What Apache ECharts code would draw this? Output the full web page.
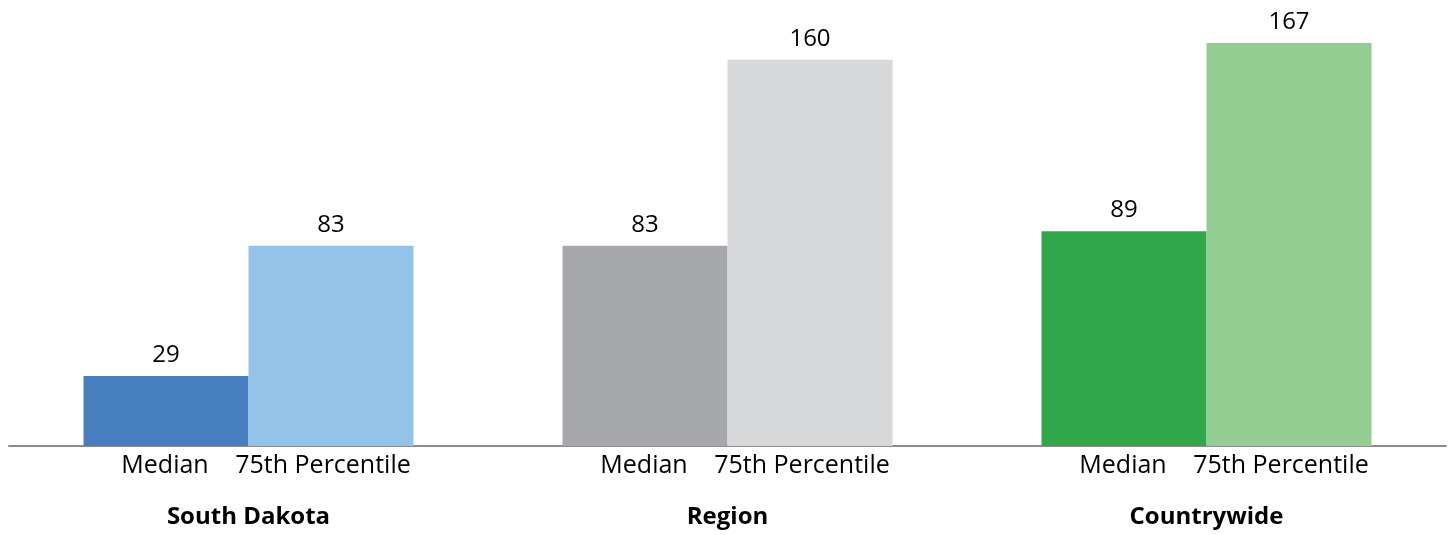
<!DOCTYPE html>
<html>
<head>
<meta charset="utf-8">
<script src="https://cdn.jsdelivr.net/npm/echarts@6/dist/echarts.min.js"></script>
<style>
  html, body { margin: 0; padding: 0; background: #fff; }
  #chart { width: 1450px; height: 535px; }
</style>
</head>
<body>
<div id="chart"></div>
<script>
// groups along the x axis
const groups = ["South Dakota", "Region", "Countrywide"];
// bar labels under each group
const barNames = ["Median", "75th Percentile"];
// values
const medianValues = [29, 83, 89];
const p75Values = [83, 160, 167];
// colours per group (dark = median, light = 75th)
const medianColors = ["#477ec0", "#a6a7ab", "#30a84a"];
const p75Colors = ["#93c3e8", "#d7d8da", "#93cd91"];

const chart = echarts.init(document.getElementById("chart"));

function buildData(values, colors) {
  return values.map((v, i) => ({ value: v, itemStyle: { color: colors[i] } }));
}

const labelStyle = {
  show: true,
  position: "top",
  distance: 9,
  fontFamily: "Open Sans",
  fontSize: 24,
  color: "#000",
};

const option = {
  animation: false,
  grid: { left: 9, right: 4, top: 0, bottom: 89 },
  xAxis: {
    type: "category",
    data: groups,
    axisLine: { lineStyle: { color: "#8c8c8c", width: 2 } },
    axisTick: { show: false },
    axisLabel: {
      interval: 0,
      margin: 5,
      fontFamily: "Open Sans",
      color: "#000",
      formatter: (name) =>
        "{m|" + barNames[0] + "}{p|" + barNames[1] + "}\n{g|" + name + "}",
      rich: {
        m: { width: 165, align: "center", fontSize: 25, lineHeight: 30, fontFamily: "Open Sans", color: "#000" },
        p: { width: 151, align: "center", fontSize: 25, lineHeight: 30, fontFamily: "Open Sans", color: "#000", padding: [0, 16, 0, 0] },
        g: { fontSize: 24, fontWeight: "bold", lineHeight: 72, fontFamily: "Open Sans", color: "#000" },
      },
    },
  },
  yAxis: {
    type: "value",
    min: 0,
    max: 184.8,
    show: false,
    splitLine: { show: false },
  },
  series: [
    {
      name: barNames[0],
      type: "bar",
      barWidth: 165,
      barGap: "0%",
      data: buildData(medianValues, medianColors),
      label: labelStyle,
    },
    {
      name: barNames[1],
      type: "bar",
      barWidth: 165,
      barGap: "0%",
      data: buildData(p75Values, p75Colors),
      label: labelStyle,
    },
  ],
};

chart.setOption(option);
</script>
</body>
</html>
